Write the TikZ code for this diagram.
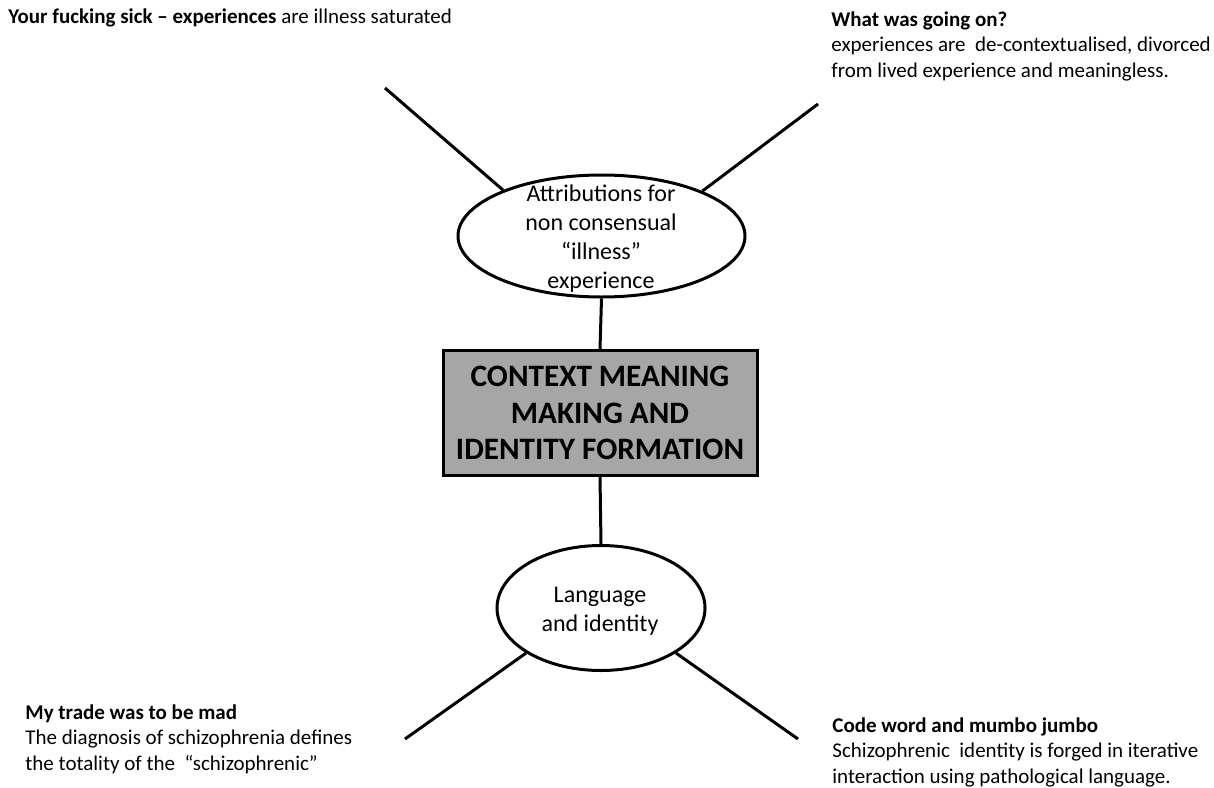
\documentclass[tikz,border=0pt]{standalone}
\usepackage{fontspec}
\setmainfont{Carlito}
\usetikzlibrary{shapes.geometric}
\definecolor{boxgray}{HTML}{A6A6A6}
\tikzset{
  conn/.style={line width=1.5pt, black},
  oval/.style={ellipse, draw=black, line width=1.5pt, fill=white, inner sep=0pt},
  note/.style={align=left, inner sep=0pt, anchor=base west, font=\fontsize{10.5}{12.75}\selectfont},
  otext/.style={align=center, inner sep=0pt, font=\fontsize{12}{14.5}\selectfont},
  core/.style={draw=black, line width=1.5pt, fill=boxgray, inner sep=0pt, minimum width=157pt, minimum height=62.5pt, align=center, font=\fontsize{15.6}{18.4}\selectfont\bfseries}
}
\begin{document}
\begin{tikzpicture}[x=0.5pt,y=-0.5pt]
\useasboundingbox (0,0) rectangle (1214,787);
% central box
\node[core] (core) at (600,413) {CONTEXT MEANING\\MAKING AND\\IDENTITY FORMATION};
% ellipses
\node[oval, minimum width=143.5pt, minimum height=61pt] (e1) at (601.5,236) {};
\node[otext] (e1t) at (601,239) {Attributions for\\non consensual\\“illness”\\experience};
\node[oval, minimum width=104pt, minimum height=62.5pt] (e2) at (601,608) {};
\node[otext] (e2t) at (600,611) {Language\\and identity};
% free ends
\coordinate (tl) at (385,88);
\coordinate (tr) at (818,104);
\coordinate (bl) at (405,739);
\coordinate (br) at (798,739);
% connectors
\draw[conn] (e1.south) -- (core.north);
\draw[conn] (core.south) -- (e2.north);
\draw[conn] (tl) -- (e1.155);
\draw[conn] (tr) -- (e1.24);
\draw[conn] (bl) -- (e2.211);
\draw[conn] (br) -- (e2.329);
% texts (anchor = baseline of last line)
\node[note] (ntl) at (8,24) {\textbf{Your fucking sick – experiences} are illness saturated};
\node[note] (ntr) at (831,77) {\textbf{What was going on?}\\experiences are\ \ de-contextualised, divorced\\from lived experience and meaningless.};
\node[note] (nbl) at (25,770) {\textbf{My trade was to be mad}\\The diagnosis of schizophrenia defines\\the totality of the \ “schizophrenic”};
\node[note] (nbr) at (832,783) {\textbf{Code word and mumbo jumbo}\\Schizophrenic\ \ identity is forged in iterative\\interaction using pathological language.};
\end{tikzpicture}
\end{document}
